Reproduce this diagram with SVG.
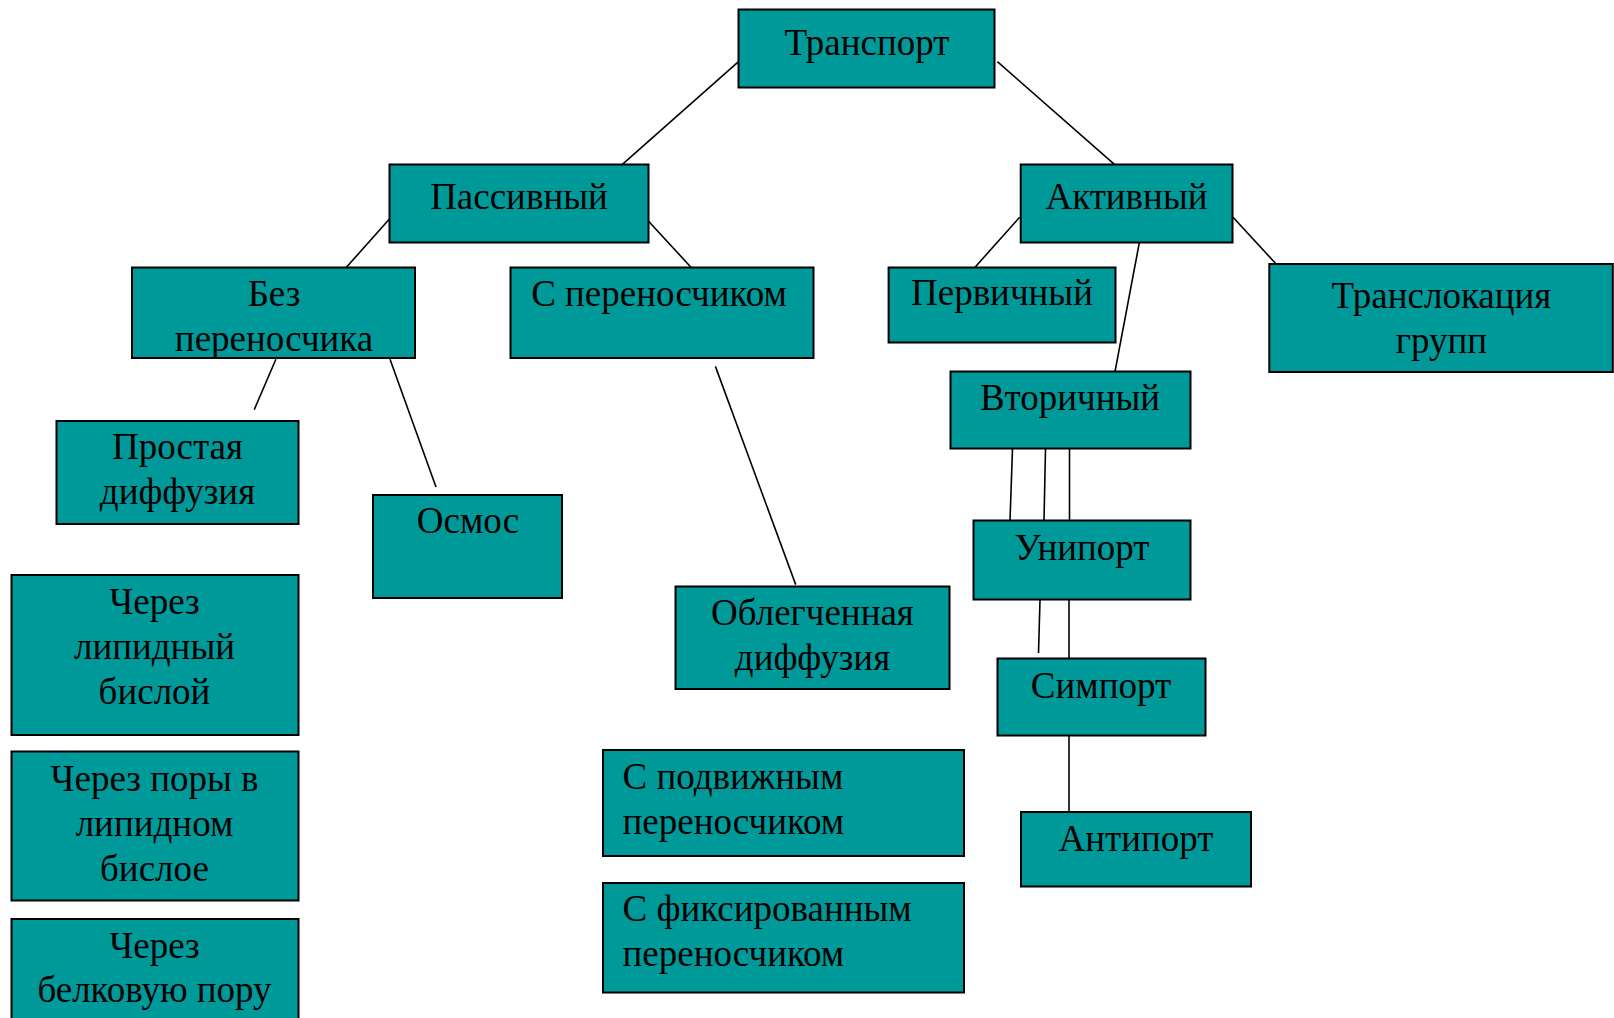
<svg xmlns="http://www.w3.org/2000/svg" width="1614" height="1018" viewBox="0 0 1614 1018">
<style>
.box{fill:#009999;stroke:#000;stroke-width:2}
.t{font-family:"Liberation Serif","Times New Roman",serif;font-size:37px;fill:#000;text-anchor:middle}
.l{text-anchor:start}
.c line{stroke:#000;stroke-width:1.6}
</style>
<rect width="1614" height="1018" fill="#fff"/>
<g class="c" id="connectors">
<line x1="738.5" y1="61.7" x2="622.4" y2="164.3"/>
<line x1="997.4" y1="61.7" x2="1114.4" y2="164.3"/>
<line x1="391" y1="217.3" x2="346" y2="267.7"/>
<line x1="644.4" y1="216.7" x2="691.4" y2="267.7"/>
<line x1="275.9" y1="359.2" x2="254.2" y2="409.7"/>
<line x1="390" y1="359.2" x2="436" y2="486.9"/>
<line x1="715.4" y1="366.4" x2="795.7" y2="584.6"/>
<line x1="1019.6" y1="217.3" x2="974.6" y2="267.7"/>
<line x1="1139.3" y1="242.7" x2="1115" y2="371.7"/>
<line x1="1233" y1="217.3" x2="1275.5" y2="263.3"/>
<line x1="1012.5" y1="448.8" x2="1010" y2="520.5"/>
<line x1="1045.5" y1="448.8" x2="1044" y2="520.5"/>
<line x1="1069.5" y1="448.8" x2="1069.5" y2="520.5"/>
<line x1="1040" y1="600" x2="1038.5" y2="653"/>
<line x1="1069" y1="600" x2="1069" y2="658.5"/>
<line x1="1069" y1="735.5" x2="1069" y2="812"/>
</g>
<g id="n-transport"><rect class="box" x="738.5" y="9.5" width="256" height="78"/><text class="t" x="867" y="54.5">Транспорт</text></g>
<g id="n-passive"><rect class="box" x="389.5" y="164.5" width="259" height="78"/><text class="t" x="519" y="208.5">Пассивный</text></g>
<g id="n-active"><rect class="box" x="1020.7" y="164.5" width="211.8" height="78"/><text class="t" x="1126.5" y="208.5">Активный</text></g>
<g id="n-bez"><rect class="box" x="132" y="267.5" width="283" height="90.5"/><text class="t" x="274" y="305.5">Без</text><text class="t" x="274" y="351">переносчика</text></g>
<g id="n-sper"><rect class="box" x="510.5" y="267.5" width="303" height="90.5"/><text class="t" x="659" y="305.5">С переносчиком</text></g>
<g id="n-primary"><rect class="box" x="888.6" y="267.5" width="226.9" height="75"/><text class="t" x="1002" y="305">Первичный</text></g>
<g id="n-transloc"><rect class="box" x="1269.3" y="264" width="343.5" height="108"/><text class="t" x="1441.5" y="308">Транслокация</text><text class="t" x="1441.5" y="353">групп</text></g>
<g id="n-secondary"><rect class="box" x="950.5" y="371.5" width="240" height="77"/><text class="t" x="1070" y="410">Вторичный</text></g>
<g id="n-simple"><rect class="box" x="56.5" y="421" width="242" height="103"/><text class="t" x="177.5" y="459">Простая</text><text class="t" x="177.5" y="504">диффузия</text></g>
<g id="n-osmos"><rect class="box" x="373" y="495" width="189" height="103"/><text class="t" x="468" y="533">Осмос</text></g>
<g id="n-uniport"><rect class="box" x="973.5" y="520.5" width="217" height="79"/><text class="t" x="1082" y="559.5">Унипорт</text></g>
<g id="n-lipid"><rect class="box" x="11.5" y="575" width="287" height="160"/><text class="t" x="154.5" y="614">Через</text><text class="t" x="154.5" y="659">липидный</text><text class="t" x="154.5" y="704">бислой</text></g>
<g id="n-facil"><rect class="box" x="675.5" y="586.5" width="274" height="102.5"/><text class="t" x="812.5" y="625">Облегченная</text><text class="t" x="812.5" y="670">диффузия</text></g>
<g id="n-symport"><rect class="box" x="997.5" y="658.5" width="208" height="77"/><text class="t" x="1101" y="697.5">Симпорт</text></g>
<g id="n-mobile"><rect class="box" x="603" y="750" width="361" height="106"/><text class="t l" x="622.5" y="788.5">С подвижным</text><text class="t l" x="622.5" y="833.5">переносчиком</text></g>
<g id="n-pores"><rect class="box" x="11.5" y="751.5" width="287" height="149"/><text class="t" x="154.5" y="791">Через поры в</text><text class="t" x="154.5" y="836">липидном</text><text class="t" x="154.5" y="881">бислое</text></g>
<g id="n-antiport"><rect class="box" x="1021" y="812" width="230" height="74.5"/><text class="t" x="1136" y="850.5">Антипорт</text></g>
<g id="n-fixed"><rect class="box" x="603" y="883" width="361" height="109.5"/><text class="t l" x="622.5" y="921">С фиксированным</text><text class="t l" x="622.5" y="966">переносчиком</text></g>
<g id="n-protein"><rect class="box" x="11.5" y="919" width="287" height="110"/><text class="t" x="154.5" y="958">Через</text><text class="t" x="154.5" y="1002">белковую пору</text></g>
</svg>
